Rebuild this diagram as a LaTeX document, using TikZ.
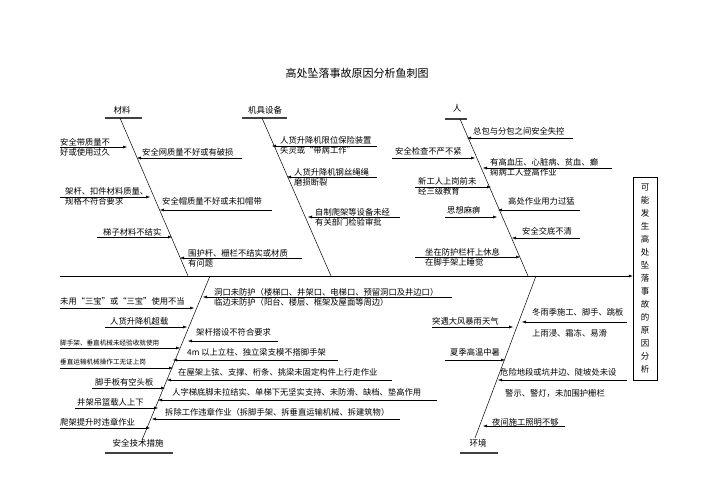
\documentclass[tikz,border=0pt]{standalone}
\usepackage{fontspec}
\setmainfont{Noto Sans CJK SC}
\usetikzlibrary{arrows.meta}
\tikzset{
 arr/.style={-{Latex[length=4pt,width=3pt]},line width=0.4pt},
 bone/.style={line width=0.5pt},
 bar/.style={line width=2.2pt,draw=black!75},
 txt/.style={anchor=west,inner sep=0pt,font=\fontsize{8.3}{10}\selectfont,align=left},
 stxt/.style={anchor=west,inner sep=0pt,font=\fontsize{6.6}{8}\selectfont},
 head/.style={inner sep=0pt,font=\fontsize{8.5}{10}\selectfont},
}
\newcommand{\cz}[5]{\draw[arr] (#1,#2) -- (#3,#2); \node[txt] at (#4,#5) {\strut};}
\begin{document}
\begin{tikzpicture}[x=1pt,y=-1pt]
\useasboundingbox (0,0) rectangle (707,500);
\node[font=\fontsize{11}{13}\selectfont] (title) at (357,73) {高处坠落事故原因分析鱼刺图};
% spine and box
\node[draw,line width=0.5pt,minimum width=24pt,minimum height=203pt,inner sep=0pt] (eff) at (645,278.5) {};
\node[font=\fontsize{8.5}{13}\selectfont,align=center] at (eff.center) {可\\能\\发\\生\\高\\处\\坠\\落\\事\\故\\的\\原\\因\\分\\析};
\coordinate (s0) at (60,276);
\draw[arr,line width=0.5pt] (s0) -- (eff.west |- s0);
% headers
\draw[bar] (105,118) -- (142,118); \node[head] (h1) at (122,110) {材料};
\draw[bar] (242,118) -- (287,118); \node[head] (h2) at (265,110) {机具设备};
\draw[bar] (445,119) -- (467,119); \node[head] (h3) at (457,108) {人};
\draw[bar] (105,453) -- (173,453); \node[head] (h4) at (138,443) {安全技术措施};
\draw[bar] (460,453) -- (498,453); \node[head] (h5) at (478,443) {环境};
% bones
\draw[bone] (120,118) -- (188,276);
\draw[bone] (262,118) -- (331,276);
\draw[bone] (460,119) -- (528,276);
\draw[bone] (210,276) -- (142,440);
\draw[bone] (536,276) -- (475,438);
% 材料
\draw[arr] (60,147) -- (127,147); \node[txt] at (60,147) {安全带质量不\\好或使用过久};
\draw[arr] (242,158) -- (137,158); \node[txt] at (142,152) {安全网质量不好或有破损};
\draw[arr] (60,197) -- (150,197); \node[txt] at (65,196) {架杆、扣件材料质量、\\规格不符合要求};
\draw[arr] (272,210) -- (160,210); \node[txt] at (162,201) {安全帽质量不好或未扣帽带};
\draw[arr] (97,237) -- (172,237); \node[txt] at (103,232) {梯子材料不结实};
\draw[arr] (302,258) -- (180,258); \node[txt] at (188,258) {围护杆、栅栏不结实或材质\\有问题};
% 机具
\draw[arr] (377,146) -- (272,146); \node[txt] at (280,145) {人货升降机限位保险装置\\失灵或“带病工作”};
\draw[arr] (377,177) -- (287,177); \node[txt] at (294,177) {人货升降机钢丝绳绳\\磨损断裂};
\draw[arr] (400,217) -- (308,217); \node[txt] at (315,217) {自制爬架等设备未经\\有关部门检验审批};
% 人
\draw[arr] (573,138) -- (467,138); \node[txt] at (473,131) {总包与分包之间安全失控};
\draw[arr] (392,158) -- (475,158); \node[txt] at (395,151) {安全检查不严不紧};
\draw[arr] (612,168) -- (483,168); \node[txt] at (490,167) {有高血压、心脏病、贫血、癫\\痫病工人登高作业};
\draw[arr] (415,187) -- (491,187); \node[txt] at (418,186) {新工人上岗前未\\经三级教育};
\draw[arr] (580,210) -- (498,210); \node[txt] at (508,201) {高处作业用力过猛};
\draw[arr] (445,217) -- (497,217); \node[txt] at (447,210) {思想麻痹};
\draw[arr] (580,238) -- (512,238); \node[txt] at (522,231) {安全交底不清};
\draw[arr] (415,257) -- (520,257); \node[txt] at (425,257) {坐在防护栏杆上休息\\在脚手架上睡觉};
% 安全技术措施
\draw[arr] (452,297) -- (203,297); \node[txt] at (214,297) {洞口未防护（楼梯口、井架口、电梯口、预留洞口及井边口）\\临边未防护（阳台、楼层、框架及屋面等周边）};
\draw[arr] (60,308) -- (194,308); \node[txt] at (60,301) {未用“三宝”或“三宝”使用不当};
\draw[arr] (105,327) -- (187,327); \node[txt] at (110,321) {人货升降机超载};
\draw[arr] (278,341) -- (188,341); \node[txt] at (196,332) {架杆搭设不符合要求};
\draw[arr] (60,348) -- (180,348); \node[stxt] at (60,343) {脚手架、垂直机械未经验收就使用};
\draw[arr] (338,360) -- (173,360); \node[txt] at (187,352) {4m 以上立柱、独立梁支模不搭脚手架};
\draw[arr] (60,368) -- (173,368); \node[stxt] at (60,362) {垂直运输机械操作工无证上岗};
\draw[arr] (392,380) -- (167,380); \node[txt] at (178,372) {在屋架上弦、支撑、桁条、挑梁未固定构件上行走作业};
\draw[arr] (92,388) -- (165,388); \node[txt] at (95,382) {脚手板有空头板};
\draw[arr] (437,400) -- (158,400); \node[txt] at (172,392) {人字梯底脚未拉结实、单梯下无坚实支持、未防滑、缺档、垫高作用};
\draw[arr] (75,408) -- (158,408); \node[txt] at (77,402) {井架吊篮载人上下};
\draw[arr] (400,419) -- (152,419); \node[txt] at (165,412) {拆除工作违章作业（拆脚手架、拆垂直运输机械、拆建筑物）};
\draw[arr] (60,428) -- (150,428); \node[txt] at (60,422) {爬架提升时违章作业};
% 环境
\draw[arr] (627,322) -- (522,322); \node[txt] at (532,312) {冬雨季施工、脚手、跳板}; \node[txt] at (532,333) {上雨浸、霜冻、易滑};
\draw[arr] (432,327) -- (513,327); \node[txt] at (432,321) {突遇大风暴雨天气};
\draw[arr] (445,360) -- (505,360); \node[txt] at (450,352) {夏季高温中暑};
\draw[arr] (627,380) -- (498,380); \node[txt] at (500,372) {危险地段或坑井边、陡坡处未设}; \node[txt] at (505,393) {警示、警灯，未加围护栅栏};
\draw[arr] (565,426) -- (483,426); \node[txt] at (492,422) {夜间施工照明不够};
\end{tikzpicture}
\end{document}
